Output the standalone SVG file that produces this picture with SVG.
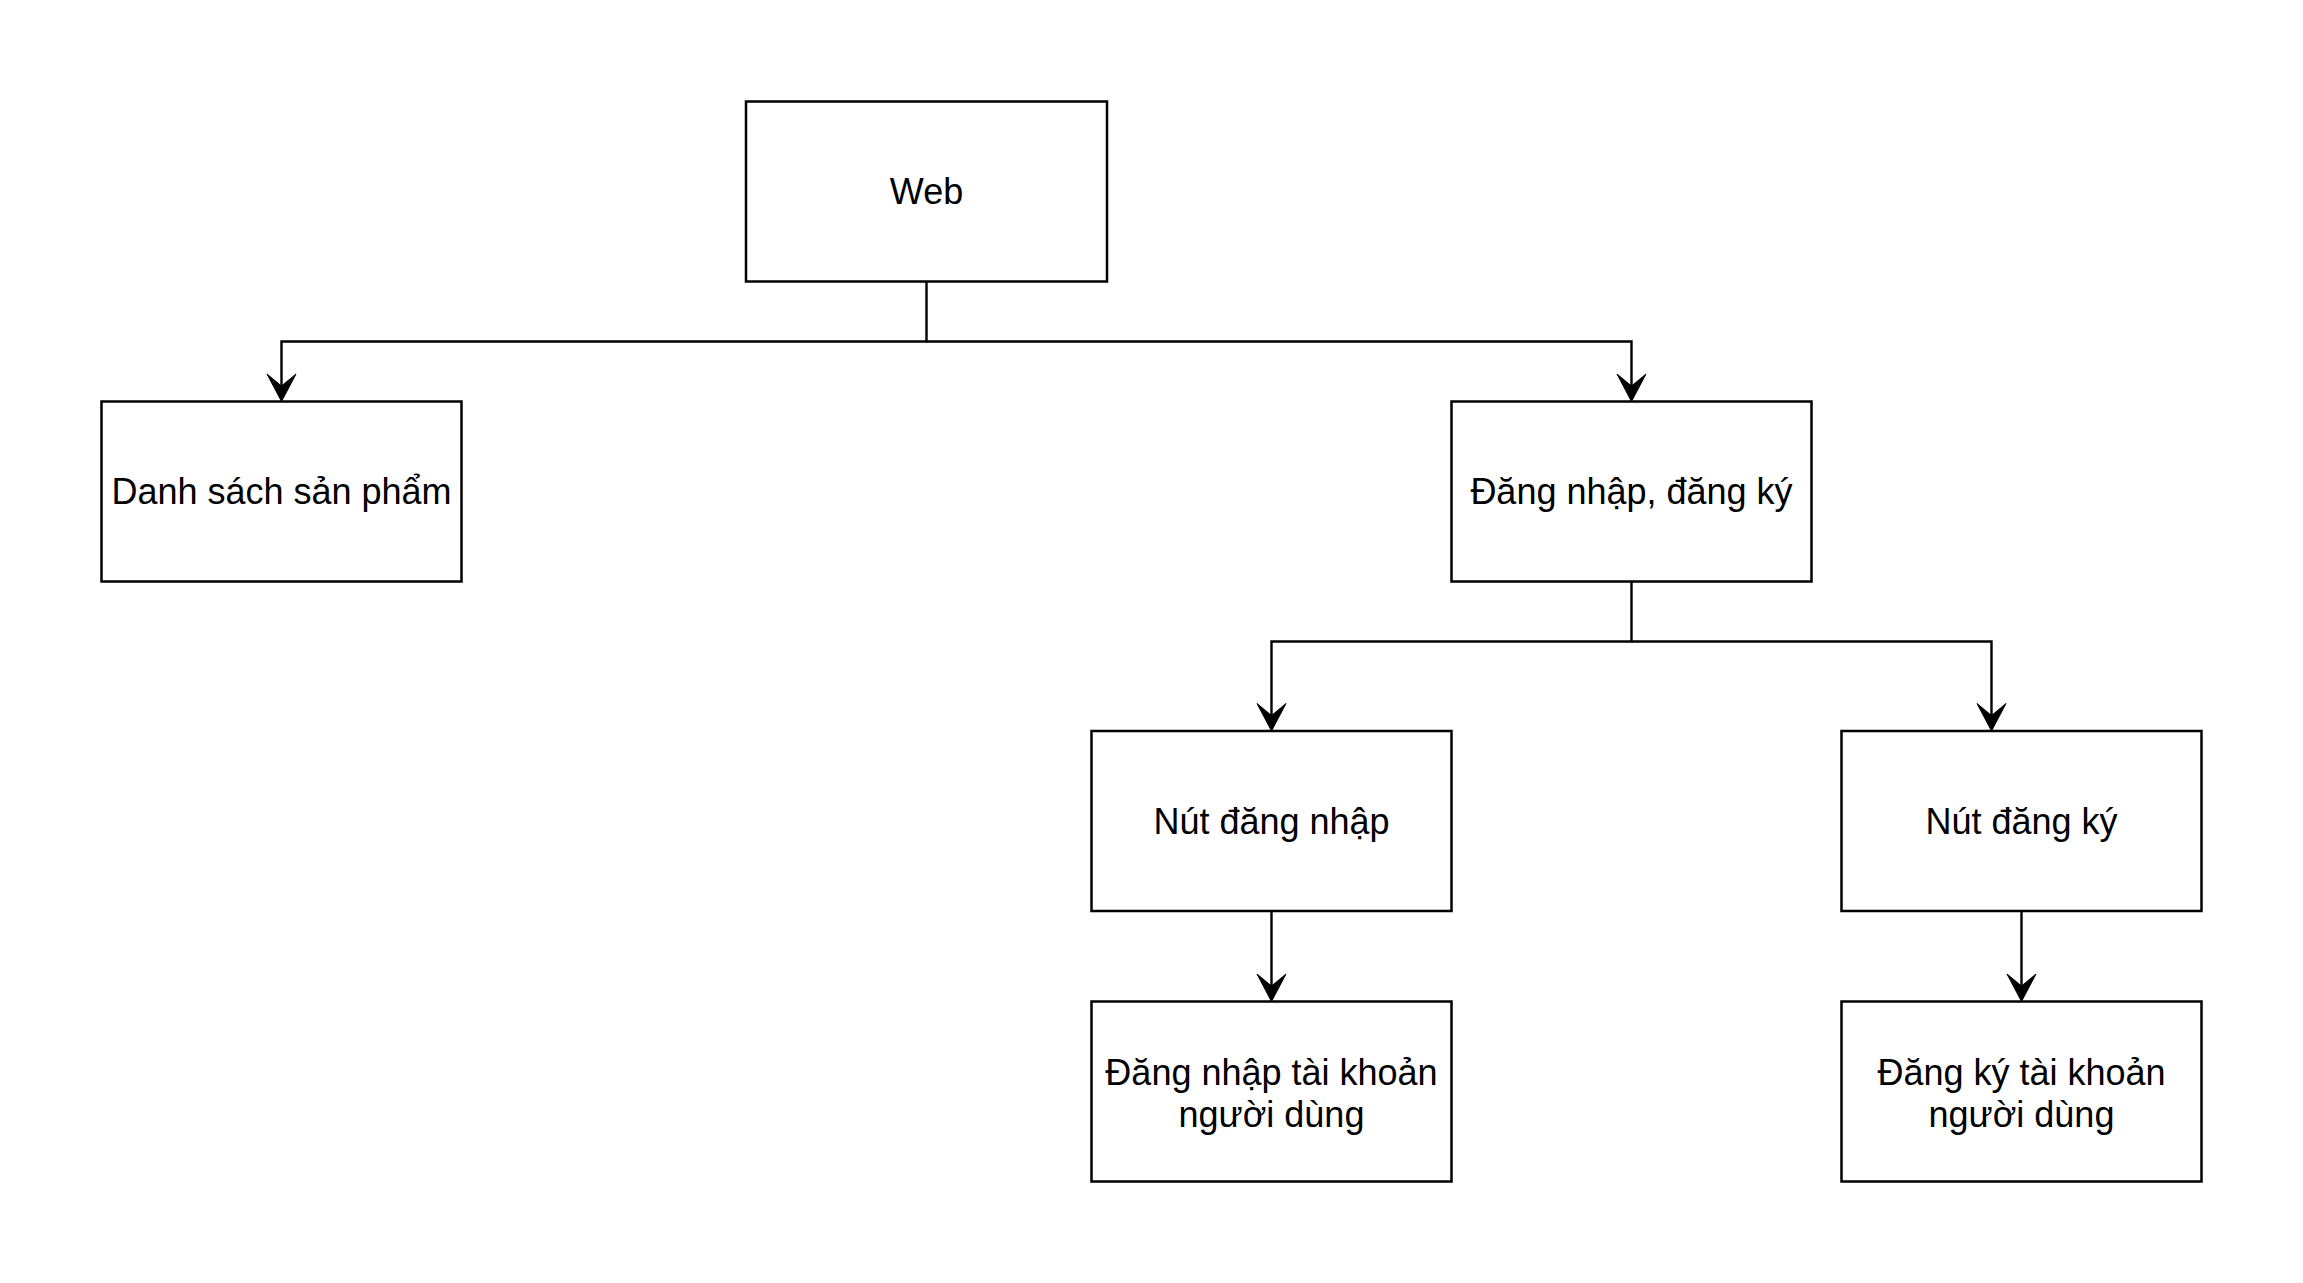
<svg xmlns="http://www.w3.org/2000/svg" width="2303" height="1283" viewBox="0 0 2303 1283">
<style>
.box{fill:#ffffff;stroke:#000000;stroke-width:2.5}
.lbl{font-family:"Liberation Sans",Arial,Helvetica,sans-serif;font-size:36px;fill:#000000;text-anchor:middle}
.edge{fill:none;stroke:#000000;stroke-width:2.4}
</style>
<defs>
<marker id="arr" markerUnits="userSpaceOnUse" markerWidth="34" markerHeight="34" viewBox="-30 -17 34 34" refX="-15" refY="0" orient="auto">
<path d="M0,0 L-27.5,-14.5 L-15.5,0 L-27.5,14.5 Z" fill="#000000" stroke="#000000" stroke-width="1" stroke-linejoin="round"/>
</marker>
</defs>
<rect width="2303" height="1283" fill="#ffffff"/>
<g id="connectors">
<path class="edge" d="M926.5,281.5 V341.5 H281.5 V386.5" marker-end="url(#arr)"/>
<path class="edge" d="M926.5,341.5 H1631.5 V386.5" marker-end="url(#arr)"/>
<path class="edge" d="M1631.5,581.5 V641.5 H1271.5 V716" marker-end="url(#arr)"/>
<path class="edge" d="M1631.5,641.5 H1991.5 V716" marker-end="url(#arr)"/>
<path class="edge" d="M1271.5,911 V986.5" marker-end="url(#arr)"/>
<path class="edge" d="M2021.5,911 V986.5" marker-end="url(#arr)"/>
</g>
<g id="node-web">
<rect class="box" x="746" y="101.5" width="361" height="180"/>
<text class="lbl" x="926.5" y="204">Web</text>
</g>
<g id="node-danh-sach">
<rect class="box" x="101.5" y="401.5" width="360" height="180"/>
<text class="lbl" x="281.5" y="504">Danh sách sản phẩm</text>
</g>
<g id="node-dang-nhap-dang-ky">
<rect class="box" x="1451.5" y="401.5" width="360" height="180"/>
<text class="lbl" x="1631.5" y="504">Đăng nhập, đăng ký</text>
</g>
<g id="node-nut-dang-nhap">
<rect class="box" x="1091.5" y="731" width="360" height="180"/>
<text class="lbl" x="1271.5" y="834">Nút đăng nhập</text>
</g>
<g id="node-nut-dang-ky">
<rect class="box" x="1841.5" y="731" width="360" height="180"/>
<text class="lbl" x="2021.5" y="834">Nút đăng ký</text>
</g>
<g id="node-dang-nhap-tk">
<rect class="box" x="1091.5" y="1001.5" width="360" height="180"/>
<text class="lbl" x="1271.5" y="1085">Đăng nhập tài khoản</text>
<text class="lbl" x="1271.5" y="1127">người dùng</text>
</g>
<g id="node-dang-ky-tk">
<rect class="box" x="1841.5" y="1001.5" width="360" height="180"/>
<text class="lbl" x="2021.5" y="1085">Đăng ký tài khoản</text>
<text class="lbl" x="2021.5" y="1127">người dùng</text>
</g>
</svg>
